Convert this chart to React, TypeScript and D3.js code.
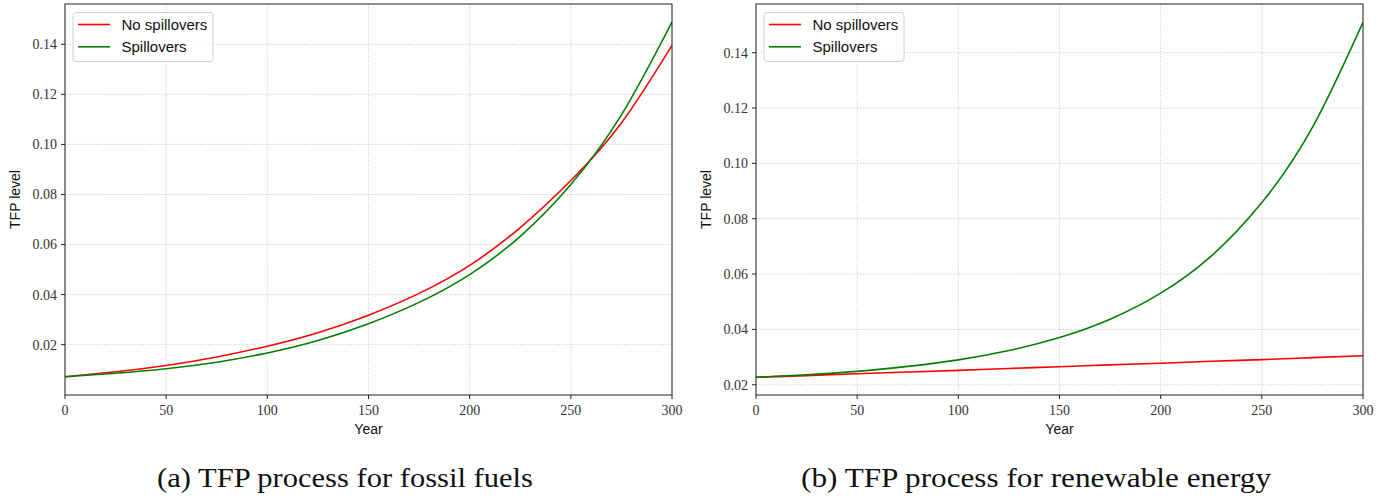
import React, { useEffect } from "react";
import * as d3 from "d3";

const years = [0, 25, 50, 75, 100, 125, 150, 175, 200, 225, 250, 275, 300];

const fossilNoSpill = [0.0072, 0.0092, 0.0117, 0.0151, 0.0194, 0.0248, 0.0318, 0.0405, 0.0517, 0.0668, 0.0856, 0.1086, 0.1396];
const fossilSpill = [0.0072, 0.0086, 0.0104, 0.0130, 0.0167, 0.0217, 0.0284, 0.0369, 0.0480, 0.0633, 0.0840, 0.1118, 0.1489];

const renewNoSpill = [0.0227, 0.0233, 0.0240, 0.0246, 0.0252, 0.0259, 0.0265, 0.0272, 0.0278, 0.0285, 0.0291, 0.0298, 0.0305];
const renewSpill = [0.0227, 0.02363, 0.02484, 0.02664, 0.0290, 0.03237, 0.03705, 0.0437, 0.05311, 0.06651, 0.08583, 0.1130, 0.1510];

const xTicks = [0, 50, 100, 150, 200, 250, 300];
const yTicks = [0.02, 0.04, 0.06, 0.08, 0.10, 0.12, 0.14];
const seriesNames = ["No spillovers", "Spillovers"];
const seriesColors = ["#ff0000", "#008000"];
const captions = ["(a) TFP process for fossil fuels", "(b) TFP process for renewable energy"];

type PanelProps = {
  left: number;
  right: number;
  top: number;
  bottom: number;
  yDomain: [number, number];
  series: number[][];
  caption: string;
  captionX: number;
  captionW: number;
};

function Panel({ left, right, top, bottom, yDomain, series, caption, captionX, captionW }: PanelProps) {
  const x = d3.scaleLinear().domain([0, 300]).range([left, right]);
  const y = d3.scaleLinear().domain(yDomain).range([bottom, top]);
  const line = d3
    .line<number>()
    .x((_, i) => x(years[i]))
    .y((d) => y(d))
    .curve(d3.curveNatural);
  const tickFont = "'Liberation Serif', 'DejaVu Serif', serif";
  const sansFont = "'Liberation Sans', Arial, sans-serif";
  const cx = (left + right) / 2;
  const cy = (top + bottom) / 2;
  const visibleY = yTicks.filter((t) => t >= yDomain[0] && t <= yDomain[1]);
  return (
    <g>
      <defs>
        <clipPath id={`clip-${left}`}>
          <rect x={left} y={top} width={right - left} height={bottom - top} />
        </clipPath>
      </defs>
      {xTicks.map((t) => (
        <line key={`gx${t}`} x1={x(t)} x2={x(t)} y1={top} y2={bottom} stroke="#b8b8b8" strokeWidth={0.8} strokeDasharray="1,1.6" />
      ))}
      {visibleY.map((t) => (
        <line key={`gy${t}`} x1={left} x2={right} y1={y(t)} y2={y(t)} stroke="#b8b8b8" strokeWidth={0.8} strokeDasharray="1,1.6" />
      ))}
      <g clipPath={`url(#clip-${left})`}>
        {series.map((s, i) => (
          <path key={i} d={line(s) || ""} fill="none" stroke={seriesColors[i]} strokeWidth={1.6} />
        ))}
      </g>
      <rect x={left} y={top} width={right - left} height={bottom - top} fill="none" stroke="#222" strokeWidth={1} />
      {xTicks.map((t) => (
        <g key={`tx${t}`}>
          <line x1={x(t)} x2={x(t)} y1={bottom} y2={bottom + 4} stroke="#222" strokeWidth={1} />
          <text x={x(t)} y={415} textAnchor="middle" fontFamily={tickFont} fontSize={14} fill="#333">
            {t}
          </text>
        </g>
      ))}
      {visibleY.map((t) => (
        <g key={`ty${t}`}>
          <line x1={left - 4} x2={left} y1={y(t)} y2={y(t)} stroke="#222" strokeWidth={1} />
          <text x={left - 8} y={y(t)} dy="0.35em" textAnchor="end" fontFamily={tickFont} fontSize={14} fill="#333">
            {t.toFixed(2)}
          </text>
        </g>
      ))}
      <text x={cx} y={434} textAnchor="middle" fontFamily={sansFont} fontSize={14} fill="#111">
        Year
      </text>
      <text
        transform={`translate(${left - 45},${cy}) rotate(-90)`}
        textAnchor="middle"
        fontFamily={sansFont}
        fontSize={14}
        fill="#111"
      >
        TFP level
      </text>
      <rect x={left + 8} y={12.5} width={140} height={49} rx={3} fill="white" fillOpacity={0.85} stroke="#d0d0d0" strokeWidth={1} />
      {seriesNames.map((n, i) => (
        <g key={n}>
          <line x1={left + 13} x2={left + 45} y1={24.5 + i * 22.3} y2={24.5 + i * 22.3} stroke={seriesColors[i]} strokeWidth={1.6} />
          <text x={left + 56.5} y={24.5 + i * 22.3} dy="0.36em" fontFamily={sansFont} fontSize={15} fill="#111">
            {n}
          </text>
        </g>
      ))}
      <text
        x={captionX}
        y={487}
        fontFamily="'Liberation Serif', 'DejaVu Serif', serif"
        fontSize={27}
        fill="#111"
        textLength={captionW}
        lengthAdjust="spacingAndGlyphs"
      >
        {caption}
      </text>
    </g>
  );
}

export default function App() {
  useEffect(() => {
    document.body.style.margin = "0";
  }, []);
  return (
    <svg width={1386} height={496} style={{ position: "absolute", left: 0, top: 0, background: "white" }}>
      <rect width={1386} height={496} fill="white" />
      <Panel left={65} right={672} top={4} bottom={395} yDomain={[-0.0001, 0.1561]} series={[fossilNoSpill, fossilSpill]} caption={captions[0]} captionX={157} captionW={376} />
      <Panel left={756} right={1363} top={4} bottom={395} yDomain={[0.0163, 0.1576]} series={[renewNoSpill, renewSpill]} caption={captions[1]} captionX={801} captionW={470} />
    </svg>
  );
}
